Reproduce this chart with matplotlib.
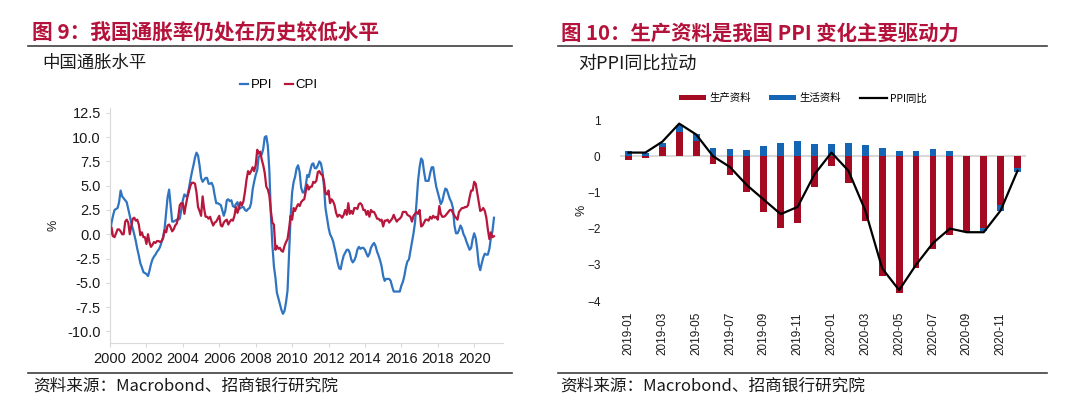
import matplotlib
matplotlib.use("Agg")
import matplotlib.pyplot as plt
import matplotlib.dates as mdates
from matplotlib.lines import Line2D
from matplotlib.patches import Patch
import pandas as pd

# ---------------------------------------------------------------------------
# Data
# ---------------------------------------------------------------------------

# China PPI / CPI yoy (%), monthly from 2000-01 to 2021-02
ppi_yoy = [
    0.0, 1.2, 1.9, 2.5, 2.6, 2.7, 3.3, 4.5, 3.9, 3.7, 3.5, 3.3,          # 2000
    2.6, 1.9, 1.2, 0.6, 0.0, -0.7, -1.5, -2.2, -3.0, -3.4, -3.9, -4.0,   # 2001
    -4.1, -4.3, -3.8, -3.1, -2.6, -2.3, -2.1, -1.8, -1.6, -1.3, -0.8, -0.3,  # 2002
    0.6, 2.3, 3.8, 4.6, 3.0, 1.3, 1.3, 1.4, 1.5, 1.5, 1.6, 2.5,          # 2003
    3.5, 4.1, 3.9, 4.0, 4.7, 5.6, 6.4, 7.1, 7.9, 8.4, 8.1, 7.1,          # 2004
    5.8, 5.4, 5.6, 5.8, 5.8, 5.2, 5.2, 5.3, 4.9, 4.0, 3.2, 3.2,          # 2005
    3.1, 3.0, 2.5, 1.9, 2.4, 3.5, 3.6, 3.4, 3.5, 2.9, 2.8, 3.1,          # 2006
    3.3, 2.6, 2.7, 2.8, 2.8, 2.5, 2.4, 2.6, 2.7, 3.2, 4.6, 5.4,          # 2007
    6.1, 6.6, 8.0, 8.1, 8.2, 8.8, 10.0, 10.1, 9.1, 6.6, 2.0, -1.1,       # 2008
    -3.3, -4.5, -6.0, -6.6, -7.2, -7.8, -8.2, -7.9, -7.0, -5.8, -2.1, 1.7,  # 2009
    4.3, 5.4, 5.9, 6.8, 7.1, 6.4, 4.8, 4.3, 4.3, 5.0, 6.1, 5.9,          # 2010
    6.6, 7.2, 7.3, 6.8, 6.8, 7.1, 7.5, 7.3, 6.5, 5.0, 2.7, 1.7,          # 2011
    0.7, 0.0, -0.3, -0.7, -1.4, -2.1, -2.9, -3.5, -3.6, -2.8, -2.2, -1.9,  # 2012
    -1.6, -1.6, -1.9, -2.6, -2.9, -2.7, -2.3, -1.6, -1.3, -1.5, -1.4, -1.4,  # 2013
    -1.6, -2.0, -2.3, -2.0, -1.4, -1.1, -0.9, -1.2, -1.8, -2.2, -2.7, -3.3,  # 2014
    -4.3, -4.8, -4.6, -4.6, -4.6, -4.8, -5.4, -5.9, -5.9, -5.9, -5.9, -5.9,  # 2015
    -5.3, -4.9, -4.3, -3.4, -2.8, -2.6, -1.7, -0.8, 0.1, 1.2, 3.3, 5.5,  # 2016
    6.9, 7.8, 7.6, 6.4, 5.5, 5.5, 5.5, 6.3, 6.9, 6.9, 5.8, 4.9,          # 2017
    4.3, 3.7, 3.1, 3.4, 4.1, 4.7, 4.6, 4.1, 3.6, 3.3, 2.7, 0.9,          # 2018
    0.1, 0.1, 0.4, 0.9, 0.6, 0.0, -0.3, -0.8, -1.2, -1.6, -1.4, -0.5,    # 2019
    0.1, -0.4, -1.5, -3.1, -3.7, -3.0, -2.4, -2.0, -2.1, -2.1, -1.5, -0.4,  # 2020
    0.3, 1.7,                                                             # 2021
]
cpi_yoy = [
    -0.2, 0.7, -0.2, -0.3, 0.1, 0.5, 0.5, 0.3, 0.0, 0.0, 1.3, 1.5,       # 2000
    1.2, 0.0, 0.8, 1.6, 1.7, 1.4, 1.5, 1.0, -0.1, 0.2, -0.3, -0.3,       # 2001
    -1.0, 0.0, -0.8, -1.3, -1.1, -0.8, -0.9, -0.7, -0.7, -0.8, -0.7, -0.4,  # 2002
    0.4, 0.2, 0.9, 1.0, 0.7, 0.3, 0.5, 0.9, 1.1, 1.8, 3.0, 3.2,          # 2003
    3.2, 2.1, 3.0, 3.8, 4.4, 5.0, 5.3, 5.3, 5.2, 4.3, 2.8, 2.4,          # 2004
    1.9, 3.9, 2.7, 1.8, 1.8, 1.6, 1.8, 1.3, 0.9, 1.2, 1.3, 1.6,          # 2005
    1.9, 0.9, 0.8, 1.2, 1.4, 1.5, 1.0, 1.3, 1.5, 1.4, 1.9, 2.8,          # 2006
    2.2, 2.7, 3.3, 3.0, 3.4, 4.4, 5.6, 6.5, 6.2, 6.5, 6.9, 6.5,          # 2007
    7.1, 8.7, 8.3, 8.5, 7.7, 7.1, 6.3, 4.9, 4.6, 4.0, 2.4, 1.2,          # 2008
    1.0, -1.6, -1.2, -1.5, -1.4, -1.7, -1.8, -1.2, -0.8, -0.5, 0.6, 1.9,  # 2009
    1.5, 2.7, 2.4, 2.8, 3.1, 2.9, 3.3, 3.5, 3.6, 4.4, 5.1, 4.6,          # 2010
    4.9, 4.9, 5.4, 5.3, 5.5, 6.4, 6.5, 6.2, 6.1, 5.5, 4.2, 4.1,          # 2011
    4.5, 3.2, 3.6, 3.4, 3.0, 2.2, 1.8, 2.0, 1.9, 1.7, 2.0, 2.5,          # 2012
    2.0, 3.2, 2.1, 2.4, 2.1, 2.7, 2.7, 2.6, 3.1, 3.2, 3.0, 2.5,          # 2013
    2.5, 2.0, 2.4, 1.8, 2.5, 2.3, 2.3, 2.0, 1.6, 1.6, 1.4, 1.5,          # 2014
    0.8, 1.4, 1.4, 1.5, 1.2, 1.4, 1.6, 2.0, 1.6, 1.3, 1.5, 1.6,          # 2015
    1.8, 2.3, 2.3, 2.3, 2.0, 1.9, 1.8, 1.3, 1.9, 2.1, 2.3, 2.1,          # 2016
    2.5, 0.8, 0.9, 1.2, 1.5, 1.5, 1.4, 1.8, 1.6, 1.9, 1.7, 1.8,          # 2017
    1.5, 2.9, 2.1, 1.8, 1.8, 1.9, 2.1, 2.3, 2.5, 2.5, 2.2, 1.9,          # 2018
    1.7, 1.5, 2.3, 2.5, 2.7, 2.7, 2.8, 2.8, 3.0, 3.8, 4.5, 4.5,          # 2019
    5.4, 5.2, 4.3, 3.3, 2.4, 2.5, 2.7, 2.4, 1.7, 0.5, -0.5, 0.2,         # 2020
    -0.3, -0.2,                                                           # 2021
]
cpi_ppi_start = "2000-01-01"

# PPI yoy contribution, 2019-01 .. 2020-12
months = [
    "2019-01", "2019-02", "2019-03", "2019-04", "2019-05", "2019-06",
    "2019-07", "2019-08", "2019-09", "2019-10", "2019-11", "2019-12",
    "2020-01", "2020-02", "2020-03", "2020-04", "2020-05", "2020-06",
    "2020-07", "2020-08", "2020-09", "2020-10", "2020-11", "2020-12",
]
production_goods = [
    -0.10, -0.05, 0.25, 0.67, 0.42, -0.22, -0.52, -1.00, -1.55, -1.97, -1.85, -0.86,
    -0.26, -0.73, -1.80, -3.30, -3.77, -3.10, -2.55, -2.19, -2.07, -1.98, -1.34, -0.33,
]
consumer_goods = [
    0.14, 0.10, 0.12, 0.20, 0.20, 0.23, 0.20, 0.18, 0.28, 0.36, 0.42, 0.33,
    0.34, 0.36, 0.30, 0.23, 0.14, 0.15, 0.19, 0.15, -0.02, -0.10, -0.17, -0.10,
]
ppi_2019_2020 = [
    0.1, 0.1, 0.4, 0.9, 0.6, 0.0, -0.3, -0.8, -1.2, -1.6, -1.4, -0.5,
    0.1, -0.4, -1.5, -3.1, -3.7, -3.0, -2.4, -2.0, -2.1, -2.1, -1.5, -0.4,
]

# ---------------------------------------------------------------------------
# Style
# ---------------------------------------------------------------------------

_TITLE_RED = "#B4123A"
_PPI_BLUE = "#2F74C0"
_CPI_RED = "#B8173C"
_BAR_RED = "#A50A23"
_BAR_BLUE = "#1565B5"
_GRID = "#D9D9D9"
_RULE = "#404040"
_TEXT = "#1A1A1A"

_CJK = ["Noto Sans CJK SC", "DejaVu Sans"]
_LATIN = ["Liberation Sans", "Noto Sans CJK SC"]

W, H = 1080, 419
plt.rcParams["font.family"] = _LATIN
fig = plt.figure(figsize=(W / 100, H / 100), dpi=100)
fig.patch.set_facecolor("white")


def px_axes(left, top, right, bottom):
    """Add axes given pixel box (origin top-left)."""
    return fig.add_axes([left / W, 1 - bottom / H, (right - left) / W, (bottom - top) / H])


def px_text(x, y, s, **kw):
    fig.text(x / W, 1 - y / H, s, **kw)


def px_rule(x0, x1, y, lw=1.2):
    fig.add_artist(Line2D([x0 / W, x1 / W], [1 - y / H, 1 - y / H],
                          color=_RULE, lw=lw, transform=fig.transFigure))


# ---------------------------------------------------------------------------
# Titles, rules and sources
# ---------------------------------------------------------------------------

px_text(32, 33, "图 9：我国通胀率仍处在历史较低水平", family=_CJK, fontsize=14.9,
        fontweight="bold", color=_TITLE_RED, va="center")
px_text(561, 33, "图 10：生产资料是我国 PPI 变化主要驱动力", family=_CJK, fontsize=14.7,
        fontweight="bold", color=_TITLE_RED, va="center")
px_rule(28, 512, 46)
px_rule(558, 1047, 46)

px_text(42, 63, "中国通胀水平", family=_CJK, fontsize=12.5, color=_TEXT, va="center")
px_text(578, 65, "对PPI同比拉动", family=_CJK, fontsize=13, color=_TEXT, va="center")

px_rule(28, 512, 373)
px_rule(558, 1047, 373)
px_text(33, 386, "资料来源：Macrobond、招商银行研究院", family=_CJK, fontsize=12,
        color=_TEXT, va="center")
px_text(560, 386, "资料来源：Macrobond、招商银行研究院", family=_CJK, fontsize=12,
        color=_TEXT, va="center")

# ---------------------------------------------------------------------------
# Left: PPI vs CPI
# ---------------------------------------------------------------------------

dates = pd.date_range(cpi_ppi_start, periods=len(ppi_yoy), freq="MS")
ax1 = px_axes(110, 108, 503, 343)
ax1.plot(dates, ppi_yoy, color=_PPI_BLUE, lw=1.6, label="PPI")
ax1.plot(dates, cpi_yoy, color=_CPI_RED, lw=1.6, label="CPI")
ax1.set_xlim(pd.Timestamp("2000-01-01"), pd.Timestamp("2021-08-01"))
ax1.set_ylim(-11.2, 13.0)
ax1.set_yticks([12.5, 10, 7.5, 5, 2.5, 0, -2.5, -5, -7.5, -10])
ax1.yaxis.set_major_formatter(plt.FormatStrFormatter("%.1f"))
ax1.xaxis.set_major_locator(mdates.YearLocator(2))
ax1.xaxis.set_major_formatter(mdates.DateFormatter("%Y"))
for s in ("top", "right"):
    ax1.spines[s].set_visible(False)
for s in ("left", "bottom"):
    ax1.spines[s].set_color(_GRID)
ax1.tick_params(axis="both", colors=_GRID, labelcolor=_TEXT, labelsize=10.5, length=3)
ax1.set_ylabel("%", fontsize=9, color=_TEXT, labelpad=6)
ax1.legend(loc="lower center", bbox_to_anchor=(0.43, 1.02), ncol=2, frameon=False,
           handlelength=0.6, handletextpad=0.2, columnspacing=1.0, fontsize=9.5)

# ---------------------------------------------------------------------------
# Right: PPI contribution (stacked bars + line)
# ---------------------------------------------------------------------------

x = list(range(len(months)))
cons_bottom = [max(p, 0) if c >= 0 else min(p, 0)
               for p, c in zip(production_goods, consumer_goods)]

ax2 = px_axes(620, 120, 1026, 301)
ax2.axhline(0, color=_GRID, lw=1.5, zorder=1)
ax2.bar(x, production_goods, width=0.4, color=_BAR_RED, zorder=2, label="生产资料")
ax2.bar(x, consumer_goods, width=0.4, bottom=cons_bottom, color=_BAR_BLUE, zorder=2,
        label="生活资料")
ax2.plot(x, ppi_2019_2020, color="black", lw=1.6, zorder=3, label="PPI同比")
ax2.set_xlim(-0.5, len(months) - 0.5)
ax2.set_ylim(-4, 1)
ax2.set_yticks([1, 0, -1, -2, -3, -4])
ax2.set_xticks(x[::2])
ax2.set_xticklabels(months[::2], rotation=90, fontsize=8)
for s in ax2.spines.values():
    s.set_visible(False)
ax2.tick_params(axis="both", length=0, labelsize=8.5, colors=_TEXT)
ax2.tick_params(axis="x", pad=8)
ax2.tick_params(axis="y", pad=14)
ax2.set_ylabel("%", fontsize=9, color=_TEXT, labelpad=0)

handles = [
    Patch(facecolor=_BAR_RED, label="生产资料"),
    Patch(facecolor=_BAR_BLUE, label="生活资料"),
    Line2D([], [], color="black", lw=1.6, label="PPI同比"),
]
leg = ax2.legend(handles=handles, loc="lower center", bbox_to_anchor=(0.45, 1.04),
                 ncol=3, frameon=False, handlelength=2.6, handleheight=0.45,
                 handletextpad=0.3, columnspacing=1.8, prop={"family": _CJK, "size": 7.5})

fig.savefig("out.png", dpi=100, facecolor="white")
